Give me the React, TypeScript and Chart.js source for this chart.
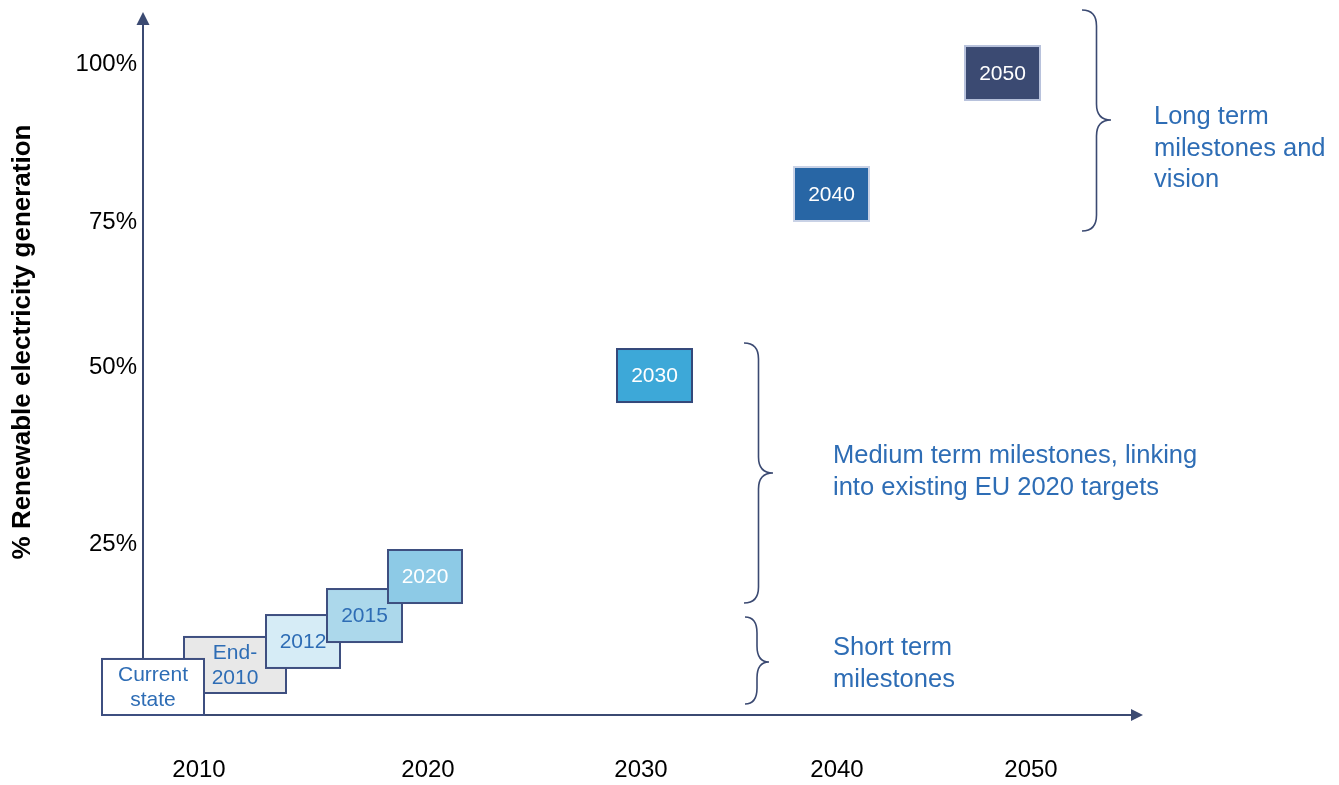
import React, { useEffect, useRef } from 'react';
import { Chart, registerables } from 'chart.js';

Chart.register(...registerables);

// ---- Data (schematic diagram units: x 0..100 along the time axis, y 0..100 along the % axis)
const xTickLabels = ['2010', '2020', '2030', '2040', '2050'];
const xTickPos = [5.6, 28.5, 49.8, 69.4, 88.8];
const yTickLabels = ['25%', '50%', '75%', '100%'];
const yTickPos = [24.3, 49.5, 70.1, 92.6];

const boxLabels = ['Current\nstate', 'End-\n2010', '2012', '2015', '2020', '2030', '2040', '2050'];
const boxX0 = [-4.1, 4.1, 12.3, 18.4, 24.5, 47.4, 65.1, 82.2];
const boxX1 = [6.1, 14.3, 19.7, 25.9, 31.9, 54.9, 72.6, 89.7];
const boxY0 = [0, 3.13, 6.69, 10.38, 15.93, 44.52, 70.27, 87.48];
const boxY1 = [7.97, 11.1, 14.22, 17.92, 23.47, 52.06, 77.95, 95.16];
const boxFill = ['#ffffff', '#e8e8e8', '#d6ecf6', '#acd8eb', '#8dcae6', '#3da8d8', '#2866a5', '#3b4a72'];
const boxBorder = ['#3e4f80', '#3e4f80', '#3e4f80', '#3e4f80', '#3e4f80', '#34487a', '#c9d2e6', '#b8c2dc'];
const boxText = ['#2e6db5', '#2e6db5', '#2e6db5', '#2e6db5', '#ffffff', '#ffffff', '#ffffff', '#ffffff'];
const boxDrawOrder = [1, 0, 2, 3, 4, 5, 6, 7];

const braceEndX = [93.9, 60.1, 60.2];
const braceTipX = [96.8, 63.0, 62.6];
const braceTop = [100.28, 52.92, 13.94];
const braceBottom = [68.85, 15.93, 1.56];
const braceMid = [84.64, 34.42, 7.54];

const noteLines = [
  ['Long term', 'milestones and', 'vision'],
  ['Medium term milestones, linking', 'into existing EU 2020 targets'],
  ['Short term', 'milestones'],
];
const noteX = [101.1, 69.0, 69.0];
const noteY = [85.06, 36.84, 9.53];

const yTitle = '% Renewable electricity generation';

const AXIS = '#3b4a72';
const NOTE = '#2e6db5';
const FONT = "'Liberation Sans', Arial, sans-serif";

const diagramPlugin = {
  id: 'diagram',
  beforeDatasetsDraw(chart: any) {
    const { ctx } = chart;
    const xs = chart.scales.x;
    const ys = chart.scales.y;
    const X = (v: number) => xs.getPixelForValue(v);
    const Y = (v: number) => ys.getPixelForValue(v);
    ctx.save();

    // axes with arrow heads
    const ox = X(0), oy = Y(0), top = Y(100), right = X(100);
    ctx.strokeStyle = AXIS;
    ctx.fillStyle = AXIS;
    ctx.lineWidth = 2;
    ctx.beginPath();
    ctx.moveTo(ox, oy);
    ctx.lineTo(ox, top + 10);
    ctx.moveTo(ox, oy);
    ctx.lineTo(right - 10, oy);
    ctx.stroke();
    ctx.beginPath();
    ctx.moveTo(ox, top);
    ctx.lineTo(ox - 6.5, top + 13);
    ctx.lineTo(ox + 6.5, top + 13);
    ctx.closePath();
    ctx.fill();
    ctx.beginPath();
    ctx.moveTo(right, oy);
    ctx.lineTo(right - 12, oy - 6);
    ctx.lineTo(right - 12, oy + 6);
    ctx.closePath();
    ctx.fill();

    // boxes
    ctx.font = `21px ${FONT}`;
    ctx.textAlign = 'center';
    ctx.textBaseline = 'middle';
    boxDrawOrder.forEach((i) => {
      const lab = boxLabels[i];
      const l = X(boxX0[i]), r = X(boxX1[i]);
      const t = Y(boxY1[i]), b = Y(boxY0[i]);
      ctx.fillStyle = boxFill[i];
      ctx.fillRect(l, t, r - l, b - t);
      ctx.strokeStyle = boxBorder[i];
      ctx.lineWidth = 2;
      ctx.strokeRect(l, t, r - l, b - t);
      ctx.fillStyle = boxText[i];
      const lines = lab.split('\n');
      const lh = 25;
      const cy = (t + b) / 2;
      lines.forEach((s, k) => {
        ctx.fillText(s, (l + r) / 2, cy + (k - (lines.length - 1) / 2) * lh + 1);
      });
    });

    // braces
    ctx.strokeStyle = AXIS;
    ctx.lineWidth = 1.6;
    braceEndX.forEach((ex, i) => {
      const x0 = X(ex), x2 = X(braceTipX[i]);
      const x1 = (x0 + x2) / 2;
      const y0 = Y(braceTop[i]), y1 = Y(braceBottom[i]), ym = Y(braceMid[i]);
      const rad = Math.min(16, (y1 - y0) / 5);
      ctx.beginPath();
      ctx.moveTo(x0, y0);
      ctx.quadraticCurveTo(x1, y0, x1, y0 + rad);
      ctx.lineTo(x1, ym - rad);
      ctx.quadraticCurveTo(x1, ym, x2, ym);
      ctx.quadraticCurveTo(x1, ym, x1, ym + rad);
      ctx.lineTo(x1, y1 - rad);
      ctx.quadraticCurveTo(x1, y1, x0, y1);
      ctx.stroke();
    });

    // notes
    ctx.fillStyle = NOTE;
    ctx.font = `25.5px ${FONT}`;
    ctx.textAlign = 'left';
    ctx.textBaseline = 'middle';
    noteLines.forEach((lines, i) => {
      lines.forEach((s, k) => {
        ctx.fillText(s, X(noteX[i]), Y(noteY[i]) + k * 31.5);
      });
    });

    // y title
    ctx.fillStyle = '#000000';
    ctx.font = `bold 26px ${FONT}`;
    ctx.textAlign = 'center';
    ctx.translate(23, 342);
    ctx.rotate(-Math.PI / 2);
    ctx.fillText(yTitle, 0, 0);

    ctx.restore();
  },
};

export default function App() {
  const ref = useRef<HTMLCanvasElement | null>(null);
  useEffect(() => {
    document.body.style.margin = '0';
    const canvas = ref.current;
    if (!canvas) return;
    const chart = new Chart(canvas, {
      type: 'scatter',
      data: {
        datasets: [
          {
            label: 'Milestones',
            data: boxLabels.map((_, i) => ({ x: (boxX0[i] + boxX1[i]) / 2, y: (boxY0[i] + boxY1[i]) / 2 })),
            pointRadius: 0,
            pointHoverRadius: 0,
          },
        ],
      },
      options: {
        responsive: false,
        animation: false,
        events: [],
        layout: { padding: { left: 0, top: 12, right: 196, bottom: 0 } },
        plugins: { legend: { display: false }, tooltip: { enabled: false } },
        scales: {
          x: {
            type: 'linear',
            min: 0,
            max: 100,
            grid: { display: false, drawTicks: false },
            border: { display: false },
            ticks: {
              autoSkip: false,
              maxRotation: 0,
              padding: 41,
              color: '#000000',
              font: { family: FONT, size: 24 },
              callback: (_v: any, i: number) => xTickLabels[i],
            },
            afterBuildTicks: (s: any) => {
              s.ticks = xTickPos.map((v) => ({ value: v }));
            },
            afterFit: (s: any) => {
              s.height = 70;
              s.paddingLeft = 0;
              s.paddingRight = 0;
            },
          },
          y: {
            type: 'linear',
            min: 0,
            max: 100,
            grid: { display: false, drawTicks: false },
            border: { display: false },
            ticks: {
              autoSkip: false,
              padding: 6,
              color: '#000000',
              font: { family: FONT, size: 24 },
              callback: (_v: any, i: number) => yTickLabels[i],
            },
            afterBuildTicks: (s: any) => {
              s.ticks = yTickPos.map((v) => ({ value: v }));
            },
            afterFit: (s: any) => {
              s.width = 143;
              s.paddingTop = 0;
              s.paddingBottom = 0;
            },
          },
        },
      },
      plugins: [diagramPlugin],
    });
    return () => chart.destroy();
  }, []);
  return (
    <div style={{ width: 1339, height: 785 }}>
      <canvas ref={ref} width={1339} height={785} style={{ display: 'block' }} />
    </div>
  );
}
